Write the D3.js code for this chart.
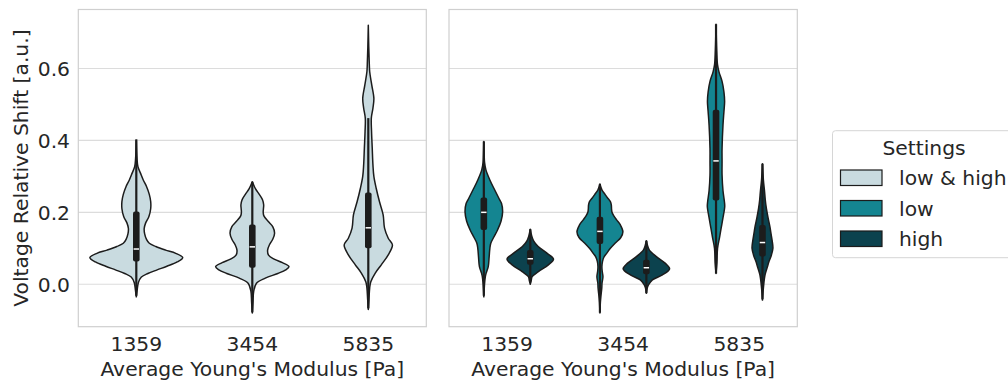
<!DOCTYPE html>
<html>
<head>
<meta charset="utf-8">
<script src="https://cdn.jsdelivr.net/npm/d3@7"></script>
<style>
  html, body { margin: 0; padding: 0; background: #ffffff; }
  svg { display: block; }
  text { font-family: "DejaVu Sans", sans-serif; fill: #262626; }
</style>
</head>
<body>
<svg id="chart" width="1008" height="381"></svg>
<script>
// Categories, legend entries and ticks
const categories = ["1359", "3454", "5835"];
const settings = ["low & high", "low", "high"];
const yTicks = [0, 0.2, 0.4, 0.6];
const xTitle = "Average Young's Modulus [Pa]";
const yTitle = "Voltage Relative Shift [a.u.]";

// Density profiles: [value, relative density] per modulus group
const densityAll = [
  [[-0.035,0],[-0.015,0.02],[0.005,0.045],[0.02,0.11],[0.03,0.25],[0.04,0.45],[0.05,0.66],[0.062,0.88],[0.074,1.0],[0.086,0.85],[0.095,0.63],[0.105,0.42],[0.114,0.28],[0.125,0.22],[0.14,0.18],[0.155,0.17],[0.17,0.2],[0.188,0.27],[0.21,0.31],[0.23,0.31],[0.25,0.28],[0.272,0.22],[0.29,0.15],[0.309,0.09],[0.327,0.035],[0.35,0.015],[0.40,0]],
  [[-0.08,0],[-0.05,0.015],[-0.02,0.03],[0.003,0.09],[0.017,0.28],[0.03,0.55],[0.04,0.72],[0.049,0.79],[0.06,0.65],[0.07,0.47],[0.081,0.35],[0.095,0.33],[0.11,0.37],[0.125,0.44],[0.142,0.48],[0.16,0.44],[0.175,0.34],[0.19,0.25],[0.2,0.235],[0.21,0.24],[0.221,0.245],[0.235,0.22],[0.25,0.15],[0.265,0.07],[0.285,0]],
  [[-0.07,0],[-0.04,0.015],[-0.01,0.03],[0.007,0.054],[0.031,0.15],[0.054,0.28],[0.082,0.43],[0.109,0.52],[0.128,0.43],[0.156,0.35],[0.193,0.32],[0.23,0.24],[0.267,0.17],[0.3,0.12],[0.332,0.1],[0.378,0.085],[0.424,0.07],[0.462,0.065],[0.49,0.1],[0.517,0.12],[0.554,0.075],[0.591,0.03],[0.619,0.02],[0.66,0.01],[0.72,0]]
];
const densityLow = [
  [[-0.035,0],[0.0,0.03],[0.021,0.065],[0.031,0.1],[0.049,0.19],[0.077,0.23],[0.1,0.26],[0.114,0.3],[0.13,0.42],[0.151,0.59],[0.175,0.74],[0.202,0.81],[0.225,0.76],[0.234,0.69],[0.262,0.47],[0.29,0.26],[0.318,0.09],[0.34,0.03],[0.36,0.015],[0.397,0]],
  [[-0.08,0],[-0.05,0.02],[-0.035,0.04],[-0.01,0.08],[0.003,0.09],[0.021,0.13],[0.035,0.1],[0.049,0.085],[0.063,0.11],[0.075,0.17],[0.086,0.29],[0.1,0.45],[0.114,0.65],[0.13,0.9],[0.146,0.99],[0.165,0.88],[0.179,0.72],[0.19,0.6],[0.2,0.52],[0.21,0.5],[0.221,0.49],[0.23,0.45],[0.24,0.33],[0.25,0.22],[0.262,0.09],[0.279,0]],
  [[0.03,0],[0.06,0.04],[0.1,0.065],[0.13,0.15],[0.156,0.22],[0.185,0.3],[0.216,0.375],[0.23,0.36],[0.26,0.3],[0.304,0.26],[0.34,0.26],[0.378,0.26],[0.443,0.3],[0.48,0.34],[0.508,0.37],[0.535,0.34],[0.564,0.26],[0.59,0.13],[0.61,0.065],[0.65,0.03],[0.723,0]]
];
const densityHigh = [
  [[0.0,0],[0.01,0.04],[0.021,0.08],[0.035,0.35],[0.054,0.78],[0.07,1.0],[0.086,0.73],[0.105,0.34],[0.12,0.15],[0.135,0.06],[0.153,0]],
  [[-0.025,0],[-0.01,0.04],[-0.002,0.09],[0.012,0.26],[0.026,0.69],[0.043,1.0],[0.058,0.82],[0.077,0.43],[0.095,0.13],[0.108,0.05],[0.121,0]],
  [[-0.044,0],[-0.01,0.04],[0.026,0.11],[0.05,0.22],[0.063,0.28],[0.08,0.38],[0.1,0.45],[0.12,0.42],[0.14,0.37],[0.16,0.32],[0.185,0.24],[0.21,0.17],[0.235,0.12],[0.258,0.09],[0.29,0.04],[0.335,0]]
];

// Box summaries: [whisker low, q1, median, q3, whisker high]
const boxAll  = [[-0.032,0.063,0.098,0.202,0.403],[-0.078,0.046,0.104,0.166,0.285],[-0.067,0.10,0.157,0.255,0.462]];
const boxLow  = [[-0.032,0.151,0.200,0.241,0.397],[-0.079,0.112,0.147,0.188,0.279],[0.030,0.233,0.343,0.485,0.723]];
const boxHigh = [[0.005,0.054,0.071,0.095,0.153],[-0.025,0.028,0.046,0.068,0.121],[-0.042,0.077,0.116,0.165,0.335]];

const colors = {"low & high": "#c9dbe0", "low": "#148591", "high": "#0c424e"};
const edge = "#1c1c1c";
const fontSize = 20.3;

const svg = d3.select("#chart");
const plotTop = 9.5, plotBottom = 326.7;
const panels = [
  {x0: 78.3, x1: 426.3, ticks: true},
  {x0: 449, x1: 797.3, ticks: false}
];

const y = d3.scaleLinear().domain([-0.118, 0.764]).range([plotBottom, plotTop]);

function drawViolin(g, cx, profile, box, halfMax, fill) {
  const w = d3.scaleLinear().domain([0, 1]).range([0, halfMax]);
  const area = d3.area()
    .curve(d3.curveCatmullRom.alpha(0.5))
    .y(d => y(d[0]))
    .x0(d => cx - w(d[1]))
    .x1(d => cx + w(d[1]));
  g.append("path").attr("d", area(profile))
    .attr("fill", fill).attr("stroke", edge).attr("stroke-width", 1.5)
    .attr("stroke-linejoin", "round");
  const [wlo, q1, med, q3, whi] = box;
  g.append("line").attr("x1", cx).attr("x2", cx)
    .attr("y1", y(wlo)).attr("y2", y(whi))
    .attr("stroke", edge).attr("stroke-width", 2.2);
  g.append("rect").attr("x", cx - 3.3).attr("width", 6.6)
    .attr("y", y(q3)).attr("height", y(q1) - y(q3))
    .attr("rx", 2).attr("fill", edge);
  g.append("line").attr("x1", cx - 2.7).attr("x2", cx + 2.7)
    .attr("y1", y(med)).attr("y2", y(med))
    .attr("stroke", "#ffffff").attr("stroke-width", 1.5);
}

panels.forEach((p, pi) => {
  const g = svg.append("g");
  const x = d3.scaleBand().domain(categories).range([p.x0, p.x1]).padding(0);
  const bw = x.bandwidth();

  // horizontal grid
  g.append("g").selectAll("line").data(yTicks).join("line")
    .attr("x1", p.x0).attr("x2", p.x1)
    .attr("y1", d => y(d)).attr("y2", d => y(d))
    .attr("stroke", "#dcdcdc").attr("stroke-width", 1.2);

  // frame
  g.append("rect").attr("x", p.x0).attr("y", plotTop)
    .attr("width", p.x1 - p.x0).attr("height", plotBottom - plotTop)
    .attr("fill", "none").attr("stroke", "#cfcfcf").attr("stroke-width", 1.2);

  // x tick labels and title
  g.append("g").selectAll("text").data(categories).join("text")
    .attr("x", d => x(d) + bw / 2).attr("y", 351.3)
    .attr("text-anchor", "middle").attr("font-size", fontSize).text(d => d);
  g.append("text").attr("x", (p.x0 + p.x1) / 2).attr("y", 376.2)
    .attr("text-anchor", "middle").attr("font-size", fontSize).text(xTitle);

  if (p.ticks) {
    g.append("g").selectAll("text").data(yTicks).join("text")
      .attr("x", 70).attr("y", d => y(d) + 7.4)
      .attr("text-anchor", "end").attr("font-size", fontSize)
      .text(d => d3.format(".1f")(d));
  }

  if (pi === 0) {
    categories.forEach((c, i) => {
      drawViolin(g, x(c) + bw / 2, densityAll[i], boxAll[i], 0.4 * bw, colors["low & high"]);
    });
  } else {
    categories.forEach((c, i) => {
      const cx = x(c) + bw / 2;
      drawViolin(g, cx - 0.2 * bw, densityLow[i], boxLow[i], 0.2 * bw, colors["low"]);
      drawViolin(g, cx + 0.2 * bw, densityHigh[i], boxHigh[i], 0.2 * bw, colors["high"]);
    });
  }
});

// y axis title
svg.append("text")
  .attr("transform", `translate(28.3,${(plotTop + plotBottom) / 2}) rotate(-90)`)
  .attr("text-anchor", "middle").attr("font-size", fontSize).text(yTitle);

// legend
const lg = svg.append("g");
lg.append("rect").attr("x", 832.5).attr("y", 130.7).attr("width", 190).attr("height", 127)
  .attr("rx", 3).attr("fill", "#ffffff").attr("stroke", "#d6d6d6").attr("stroke-width", 1);
lg.append("text").attr("x", 924).attr("y", 155).attr("text-anchor", "middle")
  .attr("font-size", fontSize).text("Settings");
const rowY = d3.scalePoint().domain(settings).range([170, 231]);
settings.forEach(s => {
  lg.append("rect").attr("x", 840.5).attr("y", rowY(s)).attr("width", 41.5).attr("height", 15.5)
    .attr("fill", colors[s]).attr("stroke", edge).attr("stroke-width", 1.2);
  lg.append("text").attr("x", 899).attr("y", rowY(s) + 15).attr("font-size", fontSize).text(s);
});
</script>
</body>
</html>
